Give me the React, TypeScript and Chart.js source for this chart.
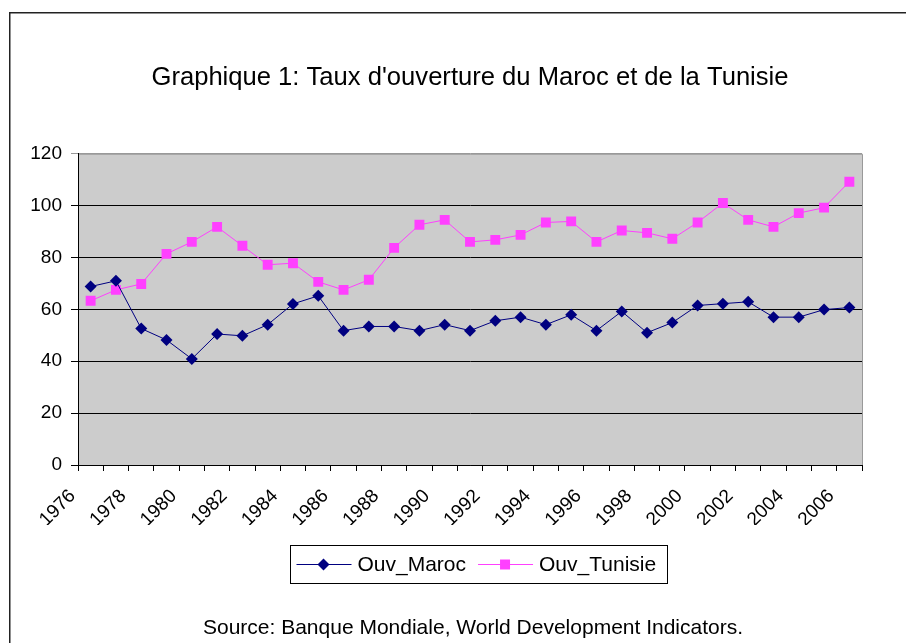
import React, { useEffect, useRef } from 'react';
import { Chart, registerables } from 'chart.js';

Chart.register(...registerables);

const years = [
  '1976', '1977', '1978', '1979', '1980', '1981', '1982', '1983', '1984', '1985',
  '1986', '1987', '1988', '1989', '1990', '1991', '1992', '1993', '1994', '1995',
  '1996', '1997', '1998', '1999', '2000', '2001', '2002', '2003', '2004', '2005', '2006',
];

const maroc = [
  68.8, 71.0, 52.6, 48.2, 40.9, 50.5, 49.8, 54.1, 62.1, 65.2,
  51.8, 53.4, 53.4, 51.8, 54.1, 51.8, 55.6, 57.0, 54.1, 57.9,
  51.8, 59.2, 51.0, 54.9, 61.5, 62.2, 62.9, 57.0, 57.0, 59.9, 60.7,
];

const tunisie = [
  63.3, 67.5, 69.8, 81.4, 86.0, 91.8, 84.5, 77.2, 77.8, 70.6,
  67.5, 71.4, 83.7, 92.6, 94.5, 86.0, 86.8, 88.7, 93.5, 93.9,
  86.0, 90.4, 89.5, 87.2, 93.5, 101.0, 94.5, 91.8, 97.1, 99.2, 109.2,
];

const seriesNames = ['Ouv_Maroc', 'Ouv_Tunisie'];
const yMin = 0;
const yMax = 120;
const yStep = 20;
const titleText = "Graphique 1: Taux d'ouverture du Maroc et de la Tunisie";
const sourceText = 'Source: Banque Mondiale, World Development Indicators.';

const FONT = 'Arial, "Liberation Sans", sans-serif';
const MAROC_COLOR = '#000080';
const TUNISIE_COLOR = '#ff40ff';

function drawMarker(ctx: CanvasRenderingContext2D, style: string, x: number, y: number, color: string) {
  ctx.fillStyle = color;
  ctx.beginPath();
  if (style === 'rectRot') {
    ctx.moveTo(x, y - 6);
    ctx.lineTo(x + 6, y);
    ctx.lineTo(x, y + 6);
    ctx.lineTo(x - 6, y);
    ctx.closePath();
  } else {
    ctx.rect(x - 5, y - 5, 10, 10);
  }
  ctx.fill();
}

const decorPlugin = {
  id: 'decor',
  beforeDraw(chart: any) {
    const { ctx, chartArea: a } = chart;
    ctx.save();
    ctx.fillStyle = '#ffffff';
    ctx.fillRect(0, 0, chart.width, chart.height);
    ctx.strokeStyle = '#222222';
    ctx.lineWidth = 1.5;
    ctx.strokeRect(9.75, 12.75, chart.width + 40, chart.height + 40);
    ctx.fillStyle = '#cccccc';
    ctx.fillRect(a.left, a.top, a.right - a.left, a.bottom - a.top);
    ctx.strokeStyle = '#999999';
    ctx.lineWidth = 1;
    ctx.beginPath();
    ctx.moveTo(a.left, a.top + 0.5);
    ctx.lineTo(a.right + 0.5, a.top + 0.5);
    ctx.lineTo(a.right + 0.5, a.bottom);
    ctx.stroke();
    ctx.restore();
  },
  afterDraw(chart: any) {
    const { ctx, chartArea: a } = chart;
    const cx = (a.left + a.right) / 2;
    ctx.save();
    // legend box
    const boxW = 377;
    const boxH = 38;
    const boxL = Math.round(cx + 8 - boxW / 2) + 0.5;
    const boxT = 545.5;
    const cy = boxT + boxH / 2;
    ctx.strokeStyle = '#000000';
    ctx.lineWidth = 1;
    ctx.strokeRect(boxL, boxT, boxW, boxH);
    ctx.font = `21px ${FONT}`;
    ctx.textBaseline = 'middle';
    ctx.textAlign = 'left';
    let x = boxL + 6;
    chart.data.datasets.forEach((ds: any) => {
      ctx.strokeStyle = ds.borderColor;
      ctx.lineWidth = 1;
      ctx.beginPath();
      ctx.moveTo(x, cy);
      ctx.lineTo(x + 55, cy);
      ctx.stroke();
      drawMarker(ctx, ds.pointStyle, x + 27, cy, ds.pointBackgroundColor);
      ctx.fillStyle = '#000000';
      ctx.fillText(ds.label, x + 61, cy + 1);
      x += 61 + ctx.measureText(ds.label).width + 12;
    });
    // source
    ctx.font = `21px ${FONT}`;
    ctx.textAlign = 'center';
    ctx.fillStyle = '#000000';
    ctx.fillText(sourceText, cx + 3, 628);
    ctx.restore();
  },
};

export default function App() {
  const canvasRef = useRef<HTMLCanvasElement | null>(null);

  useEffect(() => {
    const canvas = canvasRef.current;
    if (!canvas) return;
    const chart = new Chart(canvas, {
      type: 'line',
      data: {
        labels: years,
        datasets: [
          {
            label: seriesNames[0],
            data: maroc,
            borderColor: MAROC_COLOR,
            borderWidth: 1,
            pointStyle: 'rectRot',
            pointRadius: 6,
            pointBorderWidth: 0,
            pointBackgroundColor: MAROC_COLOR,
            pointBorderColor: MAROC_COLOR,
            tension: 0,
          },
          {
            label: seriesNames[1],
            data: tunisie,
            borderColor: TUNISIE_COLOR,
            borderWidth: 1,
            pointStyle: 'rect',
            pointRadius: 7,
            pointBorderWidth: 0,
            pointBackgroundColor: TUNISIE_COLOR,
            pointBorderColor: TUNISIE_COLOR,
            tension: 0,
          },
        ],
      },
      options: {
        responsive: false,
        animation: false,
        devicePixelRatio: 1,
        layout: { padding: { top: 0, left: 0, right: 44, bottom: 118 } },
        plugins: {
          legend: { display: false },
          tooltip: { enabled: false },
          title: {
            display: true,
            text: titleText,
            fullSize: false,
            color: '#000000',
            font: { family: FONT, size: 25.6, weight: 'normal', lineHeight: 1.2 },
            padding: { top: 63, bottom: 60 },
          },
        },
        scales: {
          x: {
            type: 'category',
            offset: true,
            grid: {
              offset: true,
              drawOnChartArea: false,
              drawTicks: true,
              tickLength: 6,
              color: '#000000',
            },
            border: { display: true, color: '#000000', width: 1 },
            ticks: {
              autoSkip: false,
              minRotation: 45,
              maxRotation: 45,
              labelOffset: -18,
              padding: 14,
              color: '#000000',
              font: { family: FONT, size: 19 },
              callback: (_v: any, i: number) => (i % 2 === 0 ? years[i] : ''),
            },
            afterFit: (scale: any) => {
              scale.height = 60;
            },
          },
          y: {
            min: yMin,
            max: yMax,
            grid: {
              color: (c: any) => (c.tick && c.tick.value === yMax ? '#999999' : '#000000'),
              lineWidth: 1,
              drawTicks: true,
              tickLength: 7,
            },
            border: { display: true, color: '#000000', width: 1 },
            ticks: {
              stepSize: yStep,
              padding: 9,
              color: '#000000',
              font: { family: FONT, size: 19 },
            },
            afterFit: (scale: any) => {
              scale.width = 78;
            },
          },
        },
      },
      plugins: [decorPlugin],
    } as any);
    return () => chart.destroy();
  }, []);

  return (
    <div style={{ position: 'fixed', left: 0, top: 0, width: 906, height: 643, overflow: 'hidden', background: '#fff' }}>
      <canvas ref={canvasRef} width={906} height={643} style={{ width: 906, height: 643, display: 'block' }} />
    </div>
  );
}
